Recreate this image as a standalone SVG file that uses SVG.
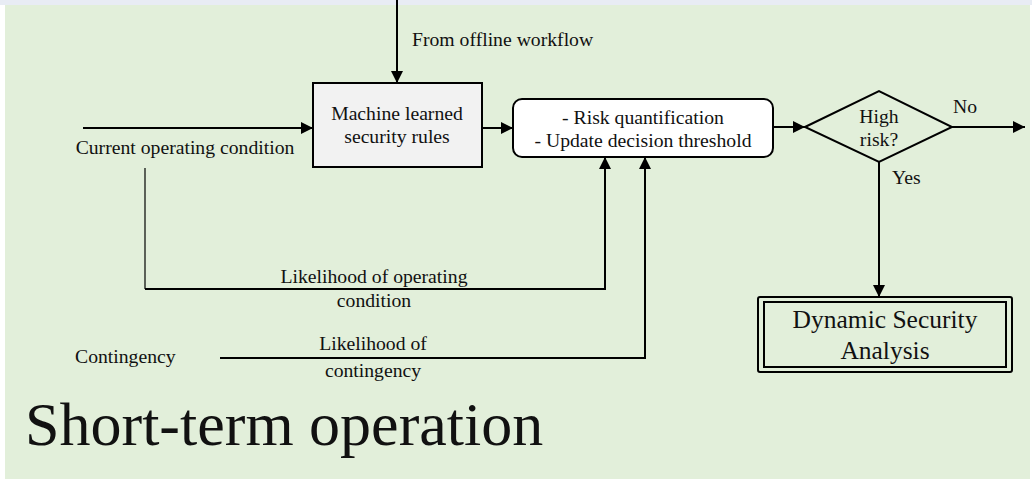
<svg xmlns="http://www.w3.org/2000/svg" width="1032" height="479" viewBox="0 0 1032 479">
<style>
text{font-family:"Liberation Serif","Times New Roman",serif;fill:#111;}
.t{font-size:19.7px;}
.c{text-anchor:middle;}
.ln{fill:none;stroke:#000;stroke-width:2;}
.thin{fill:none;stroke:#000;stroke-width:1.2;}
.box{stroke:#000;stroke-width:2;}
</style>
<defs>
<marker id="ah" markerUnits="userSpaceOnUse" markerWidth="12" markerHeight="12" refX="12" refY="6" orient="auto">
<path d="M0,0 L12,6 L0,12 z" fill="#000"/>
</marker>
</defs>
<rect x="0" y="0" width="1032" height="479" fill="#ffffff"/>
<rect x="0" y="0" width="1032" height="5" fill="#e8ecf4"/>
<rect x="5" y="5" width="1025" height="474" fill="#e2efda"/>

<g id="connectors">
<line class="ln" x1="397" y1="0" x2="397" y2="83" marker-end="url(#ah)"/>
<line class="ln" x1="83" y1="128" x2="313" y2="128" marker-end="url(#ah)"/>
<line class="ln" x1="482" y1="128" x2="513" y2="128" marker-end="url(#ah)"/>
<line class="ln" x1="773" y1="127" x2="805" y2="127" marker-end="url(#ah)"/>
<line class="ln" x1="952" y1="127" x2="1025" y2="127" marker-end="url(#ah)"/>
<line class="ln" x1="879" y1="162" x2="879" y2="297" marker-end="url(#ah)"/>
<line class="thin" x1="145" y1="168" x2="145" y2="289"/>
<path class="ln" d="M145,289 H605 V157" marker-end="url(#ah)"/>
<path class="ln" d="M220,358 H645 V157" marker-end="url(#ah)"/>
<text class="t" x="412" y="46">From offline workflow</text>
<text class="t c" x="185" y="154">Current operating condition</text>
<text class="t c" x="374" y="283">Likelihood of operating</text>
<text class="t c" x="374" y="307">condition</text>
<text class="t" x="75" y="363">Contingency</text>
<text class="t c" x="373" y="350">Likelihood of</text>
<text class="t c" x="373" y="377">contingency</text>
<text class="t" x="953" y="113">No</text>
<text class="t" x="892" y="184">Yes</text>
</g>

<g id="ml-rules">
<rect class="box" x="313" y="83" width="169" height="84" fill="#f2f2f2"/>
<text class="t c" x="397" y="120">Machine learned</text>
<text class="t c" x="397" y="143">security rules</text>
</g>

<g id="risk">
<rect class="box" x="513" y="99" width="260" height="58" rx="9" fill="#ffffff"/>
<text class="t c" x="643" y="124">- Risk quantification</text>
<text class="t c" x="643" y="147">- Update decision threshold</text>
</g>

<g id="decision">
<polygon class="box" points="805,127 879,91 952,127 879,162" fill="#e2efda"/>
<text class="t c" x="879" y="123">High</text>
<text class="t c" x="879" y="146">risk?</text>
</g>

<g id="dsa">
<rect class="box" x="758" y="297" width="254" height="75" rx="2" fill="#e2efda"/>
<rect class="box" x="764" y="302" width="242" height="65" fill="none"/>
<text class="c" x="885" y="328" font-size="25.5">Dynamic Security</text>
<text class="c" x="885" y="359" font-size="25.5">Analysis</text>
</g>

<g id="title">
<text x="25" y="445" font-size="62">Short-term operation</text>
</g>
</svg>
